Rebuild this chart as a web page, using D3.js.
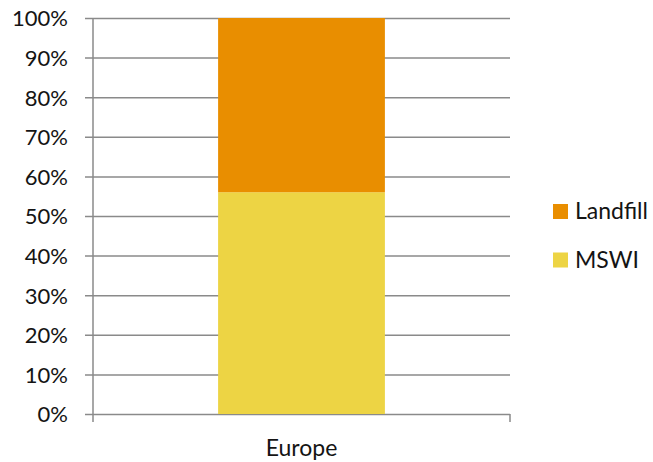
<!DOCTYPE html>
<html>
<head>
<meta charset="utf-8">
<script src="https://cdn.jsdelivr.net/npm/d3@7"></script>
<style>
  html, body { margin: 0; padding: 0; background: #fff; }
  svg text { font-family: Lato, "Open Sans", sans-serif; fill: #141414; }
</style>
</head>
<body>
<svg id="chart" width="653" height="462"></svg>
<script>
// Share of municipal waste treatment, Europe
const categories = ["Europe"];
const seriesNames = ["MSWI", "Landfill"];
const mswi = [0.56];
const landfill = [0.44];
const seriesColors = ["#EDD444", "#E98E00"];
const yTicks = [0, 0.1, 0.2, 0.3, 0.4, 0.5, 0.6, 0.7, 0.8, 0.9, 1.0];

const svg = d3.select("#chart");
const margin = { left: 93, right: 143, top: 18, bottom: 48 };
const width = 653 - margin.left - margin.right;
const height = 462 - margin.top - margin.bottom;
const tickFont = "22px";
const labelFont = "23px";

const g = svg.append("g").attr("transform", `translate(${margin.left},${margin.top})`);

const x = d3.scaleBand().domain(categories).range([0, width]).paddingInner(0.6).paddingOuter(0.3);
const y = d3.scaleLinear().domain([0, 1]).range([height, 0]);

// gridlines with outward ticks
const yAxis = d3.axisLeft(y).tickValues(yTicks).tickFormat(d3.format(".0%"))
  .tickSize(-width).tickSizeOuter(0).tickPadding(25);
const ya = g.append("g").call(yAxis);
ya.select(".domain").remove();
ya.selectAll(".tick line").attr("x1", -8).attr("stroke", "#8a8a8a").attr("stroke-width", 1.5);
ya.selectAll(".tick text").style("font-size", tickFont).attr("fill", "#141414").attr("dy", "0.36em");

// y axis line
g.append("line").attr("x1", 0).attr("x2", 0).attr("y1", 0).attr("y2", height + 8)
  .attr("stroke", "#8a8a8a").attr("stroke-width", 1.5);
// right end tick of x axis
g.append("line").attr("x1", width).attr("x2", width).attr("y1", height).attr("y2", height + 8)
  .attr("stroke", "#8a8a8a").attr("stroke-width", 1.5);

// stacked bars
const rows = categories.map((c, i) => ({ cat: c, MSWI: mswi[i], Landfill: landfill[i] }));
const stack = d3.stack().keys(seriesNames)(rows);
const color = d3.scaleOrdinal().domain(seriesNames).range(seriesColors);

g.selectAll("g.layer").data(stack).join("g").attr("class", "layer")
  .attr("fill", d => color(d.key))
  .selectAll("rect").data(d => d).join("rect")
  .attr("x", d => x(d.data.cat))
  .attr("width", x.bandwidth())
  .attr("y", d => y(d[1]))
  .attr("height", d => y(d[0]) - y(d[1]));

// category label
g.selectAll("text.cat").data(categories).join("text").attr("class", "cat")
  .attr("x", d => x(d) + x.bandwidth() / 2)
  .attr("y", height + 42)
  .attr("text-anchor", "middle")
  .style("font-size", labelFont)
  .text(d => d);

// legend (Landfill on top)
const legendItems = seriesNames.slice().reverse();
const lg = svg.append("g").attr("transform", "translate(553,204)");
const li = lg.selectAll("g").data(legendItems).join("g")
  .attr("transform", (d, i) => `translate(0,${i * 48.5})`);
li.append("rect").attr("width", 15).attr("height", 15).attr("fill", d => color(d));
li.append("text").attr("x", 22).attr("y", 15).style("font-size", labelFont).text(d => d);
</script>
</body>
</html>
